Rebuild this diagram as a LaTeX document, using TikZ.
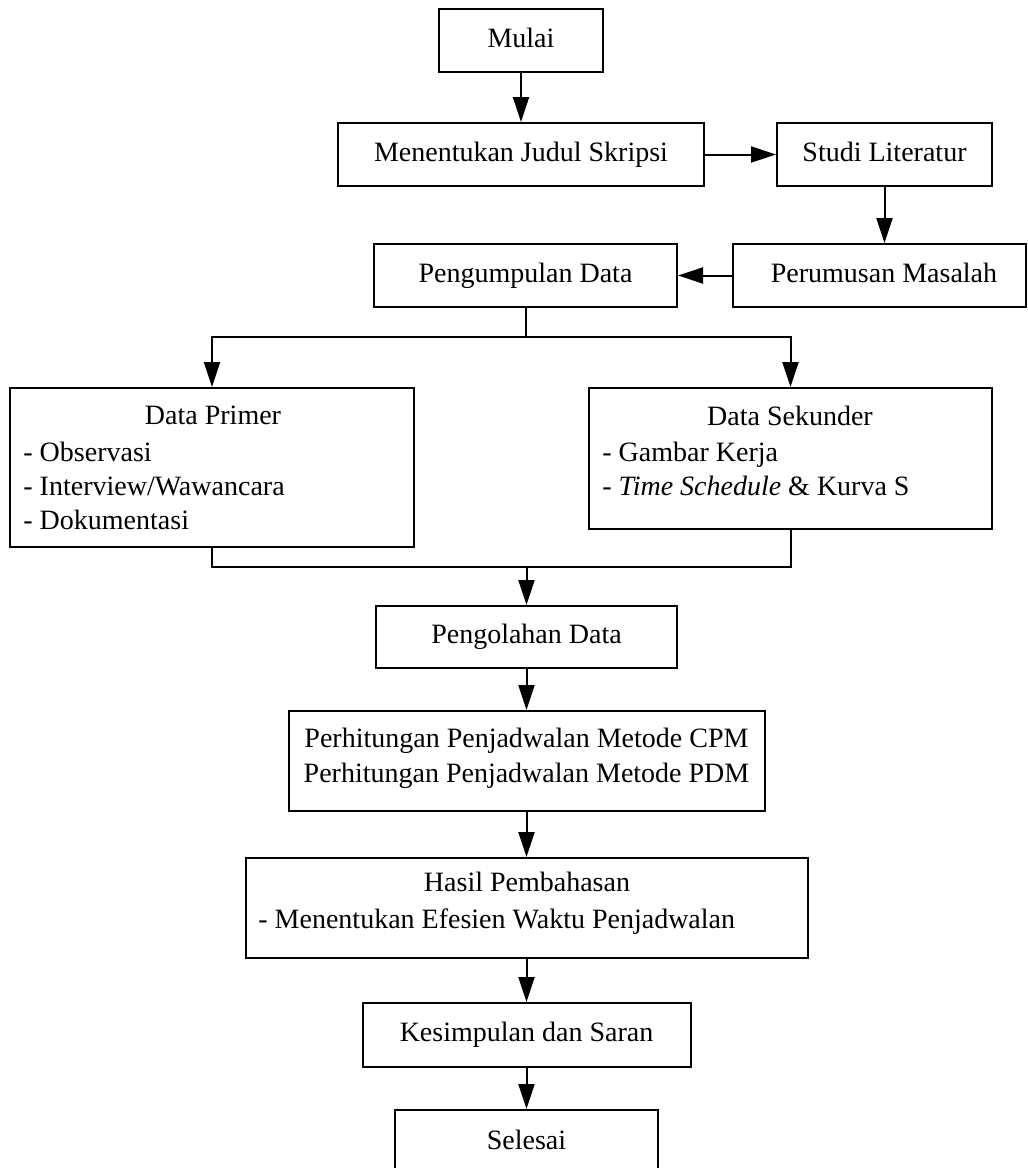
\documentclass[tikz,border=0pt]{standalone}
\usepackage{fontspec}
\setmainfont{Liberation Serif}
\usetikzlibrary{arrows.meta}

\tikzset{
  box/.style={draw=black, line width=1pt, rectangle, inner sep=0pt, fill=white},
  txt/.style={inner sep=0pt, font=\fontsize{14}{17}\selectfont, text height=9.5pt, text depth=3pt},
  link/.style={line width=1pt},
  arr/.style={line width=1pt, -{Triangle[length=12.5pt, width=8pt]}}
}

\begin{document}
\begin{tikzpicture}[x=0.5pt, y=-0.5pt]
  \useasboundingbox (0,0) rectangle (1028,1168);
  \clip (0,0) rectangle (1028,1168);

  % top row of steps
  \node[box, minimum width=82pt,    minimum height=31.5pt] (mulai)  at (521,40.5)   {};
  \node[txt] (tmulai) at (mulai) {Mulai};
  \node[box, minimum width=183pt,   minimum height=31.5pt] (judul)  at (521,154.5)  {};
  \node[txt] (tjudul) at (judul) {Menentukan Judul Skripsi};
  \node[box, minimum width=107.5pt, minimum height=31.5pt] (studi)  at (884.5,154.5) {};
  \node[txt] (tstudi) at (studi) {Studi Literatur};
  \node[box, minimum width=146.5pt, minimum height=31.5pt] (rumus)  at (879.5,275.5) {};
  \node[txt] (trumus) at (884,275.5) {Perumusan Masalah};
  \node[box, minimum width=151.5pt, minimum height=31.5pt] (kumpul) at (525.5,275.5) {};
  \node[txt] (tkumpul) at (kumpul) {Pengumpulan Data};

  % data sources
  \node[box, minimum width=202pt,   minimum height=79.5pt] (primer)   at (212,467.5)  {};
  \node[txt] (tprimer) at (213,418) {Data Primer};
  \node[txt, anchor=north west, align=left, text height=, text depth=] (lprimer) at (23,442)
    {- Observasi\\- Interview/Wawancara\\- Dokumentasi};
  \node[box, minimum width=201.5pt, minimum height=70.5pt] (sekunder) at (790.5,458.5) {};
  \node[txt] (tsekunder) at (790,419) {Data Sekunder};
  \node[txt, anchor=north west, align=left, text height=, text depth=] (lsekunder) at (602,442)
    {- Gambar Kerja\\- \textit{Time Schedule} \& Kurva S};

  % processing and results
  \node[box, minimum width=150.5pt, minimum height=31pt]   (olah)    at (526.5,637)  {};
  \node[txt] (tolah) at (olah) {Pengolahan Data};
  \node[box, minimum width=238pt,   minimum height=50pt]   (hitung)  at (526.5,761)  {};
  \node[txt, align=center, text height=, text depth=, font=\fontsize{14}{17.5}\selectfont] (thitung) at (526.5,758)
    {Perhitungan Penjadwalan Metode CPM\\Perhitungan Penjadwalan Metode PDM};
  \node[box, minimum width=281pt,   minimum height=50pt]   (hasil)   at (526.5,908)  {};
  \node[txt] (thasil) at (527,885) {Hasil Pembahasan};
  \node[txt, anchor=west] (lhasil) at (258,922) {- Menentukan Efesien Waktu Penjadwalan};
  \node[box, minimum width=164pt,   minimum height=32pt]   (simpul)  at (526.5,1035) {};
  \node[txt] (tsimpul) at (simpul) {Kesimpulan dan Saran};
  \node[box, minimum width=131.5pt, minimum height=31pt]   (selesai) at (526.5,1141) {};
  \node[txt] (tselesai) at (526.5,1143) {Selesai};

  % connectors
  \coordinate (split) at (525.5,337);
  \coordinate (join)  at (526.5,567);

  \draw[arr] (mulai) -- (judul);
  \draw[arr] (judul) -- (studi);
  \draw[arr] (studi.south) -- (studi.south |- rumus.north);
  \draw[arr] (rumus) -- (kumpul);
  \draw[link] (kumpul.south) -- (split);
  \draw[arr] (split) -| (primer.north);
  \draw[arr] (split) -| (sekunder.north);
  \draw[link] (primer.south) |- (join);
  \draw[link] (sekunder.south) |- (join);
  \draw[arr] (join) -- (olah.north);
  \draw[arr] (olah) -- (hitung);
  \draw[arr] (hitung) -- (hasil);
  \draw[arr] (hasil) -- (simpul);
  \draw[arr] (simpul) -- (selesai);
\end{tikzpicture}
\end{document}
